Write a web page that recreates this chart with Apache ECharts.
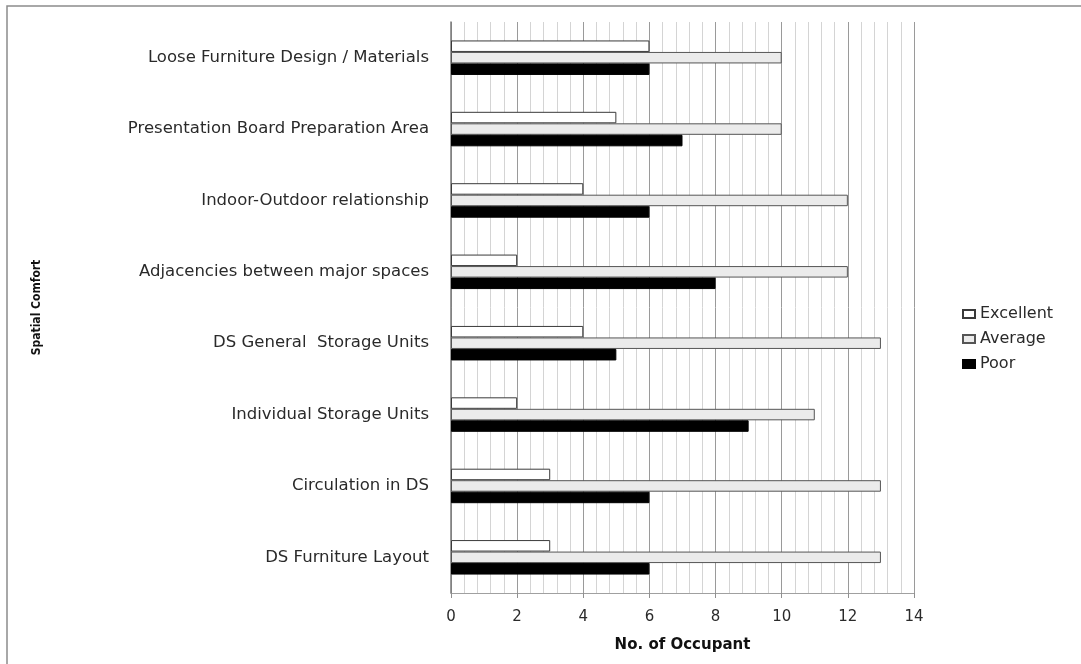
<!DOCTYPE html>
<html>
<head>
<meta charset="utf-8">
<script src="https://cdn.jsdelivr.net/npm/echarts@6/dist/echarts.min.js"></script>
<style>
html,body{margin:0;padding:0;background:#fff;}
#chart{width:1081px;height:664px;}
</style>
</head>
<body>
<div id="chart"></div>
<script>
// Categories listed bottom-to-top (ECharts category y-axis starts at bottom)
var categories = [
  'DS Furniture Layout',
  'Circulation in DS',
  'Individual Storage Units',
  'DS General  Storage Units',
  'Adjacencies between major spaces',
  'Indoor-Outdoor relationship',
  'Presentation Board Preparation Area',
  'Loose Furniture Design / Materials'
];
var excellent = [3, 3, 2, 4, 2, 4, 5, 6];
var average   = [13, 13, 11, 13, 12, 12, 10, 10];
var poor      = [6, 6, 9, 5, 8, 6, 7, 6];
var seriesNames = ['Excellent', 'Average', 'Poor'];
var xTicks = [0, 2, 4, 6, 8, 10, 12, 14];

var chart = echarts.init(document.getElementById('chart'));
var labelFont = '"DejaVu Sans", sans-serif';
var option = {
  backgroundColor: '#ffffff',
  animation: false,
  graphic: [{
    type: 'rect',
    shape: { x: 7, y: 6, width: 1090, height: 680 },
    style: { fill: 'none', stroke: '#8c8c8c', lineWidth: 1.5 },
    silent: true
  }],
  grid: { left: 451, right: 167, top: 22, bottom: 71, containLabel: false },
  legend: {
    data: seriesNames,
    orient: 'vertical',
    left: 957,
    top: 301,
    itemWidth: 12,
    itemHeight: 8,
    itemGap: 9,
    icon: 'rect',
    textStyle: { fontFamily: labelFont, fontSize: 16, color: '#2a2a2a' }
  },
  xAxis: {
    type: 'value',
    min: xTicks[0],
    max: xTicks[xTicks.length - 1],
    interval: 2,
    name: 'No. of Occupant',
    nameLocation: 'middle',
    nameGap: 45,
    nameTextStyle: { fontFamily: labelFont, fontSize: 15, fontWeight: 'bold', color: '#111' },
    axisLine: { show: true, lineStyle: { color: '#a0a0a0', width: 1 } },
    axisTick: { show: true, length: 5, lineStyle: { color: '#909090' } },
    axisLabel: { fontFamily: labelFont, fontSize: 15, color: '#2a2a2a', margin: 17 },
    splitLine: { show: true, lineStyle: { color: '#9a9a9a', width: 1 } },
    minorTick: { show: false, splitNumber: 5 },
    minorSplitLine: { show: true, lineStyle: { color: '#d4d4d4', width: 1 } }
  },
  yAxis: {
    type: 'category',
    data: categories,
    name: 'Spatial Comfort',
    nameLocation: 'middle',
    nameRotate: 90,
    nameGap: 408,
    nameTextStyle: { fontFamily: '"Liberation Sans Narrow", "DejaVu Sans Condensed", sans-serif', fontSize: 12, fontWeight: 'bold', color: '#111' },
    axisLine: { show: true, lineStyle: { color: '#7a7a7a', width: 1.5 } },
    axisTick: { show: false },
    axisLabel: { fontFamily: labelFont, fontSize: 16.5, color: '#2a2a2a', margin: 22 },
    splitLine: { show: false }
  },
  series: [
    {
      name: 'Excellent', type: 'bar', data: excellent,
      barWidth: 11.5, barGap: '0%',
      itemStyle: { color: '#ffffff', borderColor: '#3a3a3a', borderWidth: 1 }
    },
    {
      name: 'Average', type: 'bar', data: average,
      barWidth: 11.5, barGap: '0%',
      itemStyle: { color: '#ebebeb', borderColor: '#555555', borderWidth: 1 }
    },
    {
      name: 'Poor', type: 'bar', data: poor,
      barWidth: 11.5, barGap: '0%',
      itemStyle: { color: '#000000', borderColor: '#000000', borderWidth: 1 }
    }
  ]
};
chart.setOption(option);
</script>
</body>
</html>
